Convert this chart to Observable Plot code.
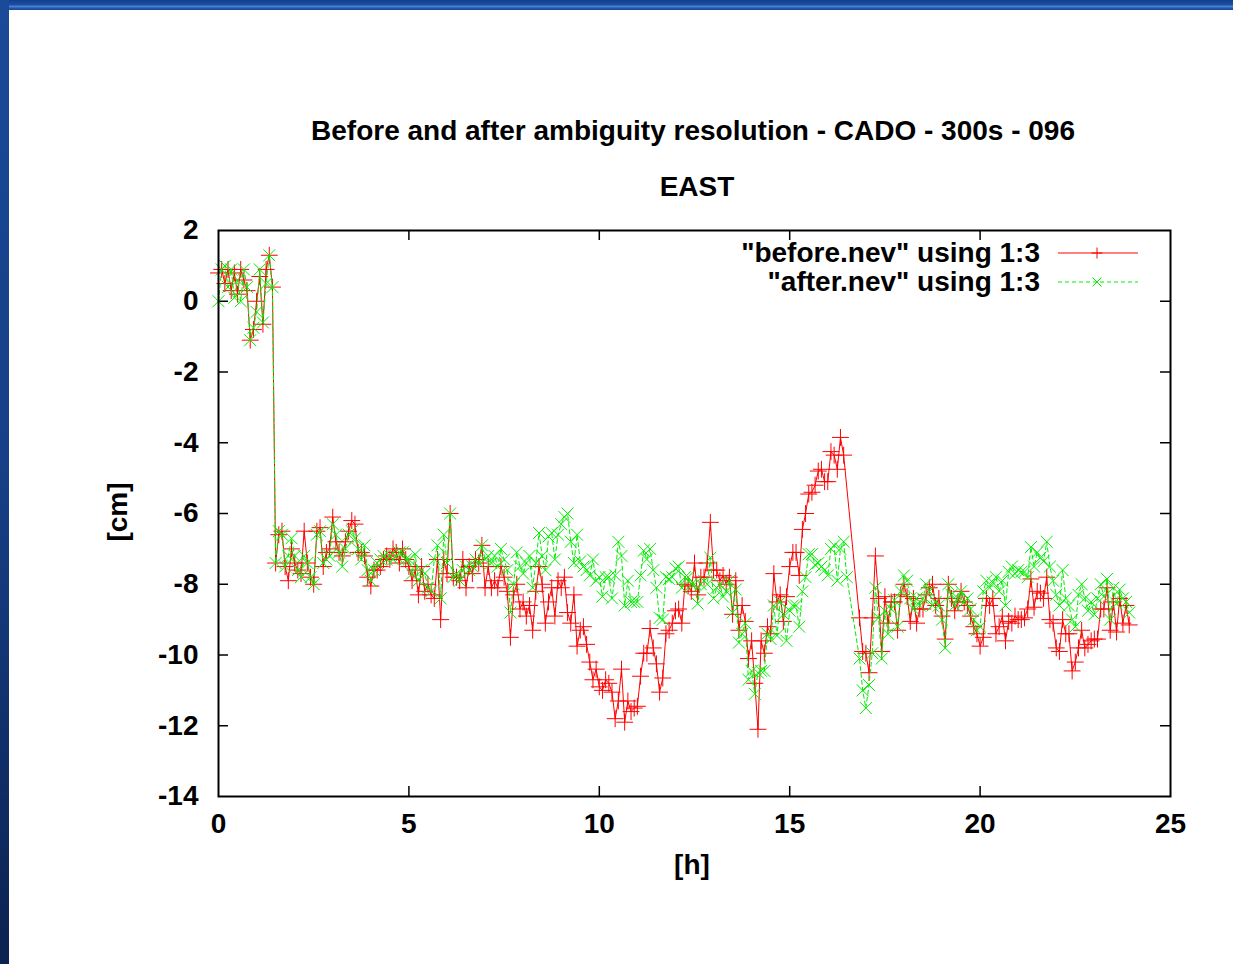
<!DOCTYPE html>
<html><head><meta charset="utf-8">
<script src="https://cdn.jsdelivr.net/npm/d3@7"></script>
<script src="https://cdn.jsdelivr.net/npm/@observablehq/plot@0.6"></script>
<style>
body{margin:0;width:1233px;height:964px;position:relative;overflow:hidden;background:#fff;font-family:"Liberation Sans",Arial,Helvetica,sans-serif;}
#topbar{position:absolute;left:0;top:0;width:1233px;height:10px;background:linear-gradient(#123f8c 0%, #1a4ea2 45%, #4a7fd4 65%, #2556a8 82%, #17479a 100%);z-index:2;}
#leftbar{position:absolute;left:0;top:0;width:9px;height:964px;background:linear-gradient(#1a4a98, #163f86 50%, #0c2250 100%);z-index:2;}
.t{position:absolute;font-weight:bold;font-size:28px;color:#000;white-space:nowrap;transform:translate(-50%,-50%);z-index:3;}
#chart{position:absolute;left:0;top:0;}
.leg{position:absolute;right:193px;font-weight:bold;font-size:28px;white-space:nowrap;transform:translateY(-50%);z-index:3;}
.legsw{position:absolute;left:1056px;z-index:3;}
</style></head><body>
<div id="topbar"></div><div id="leftbar"></div>
<div id="chart"></div>
<div class="t" style="left:693px;top:131px">Before and after ambiguity resolution - CADO - 300s - 096</div>
<div class="t" style="left:697px;top:187px">EAST</div>
<div class="t" style="left:692px;top:865px">[h]</div>
<div class="t" style="left:118px;top:512px;transform:translate(-50%,-50%) rotate(-90deg)">[cm]</div>
<div id="legend"></div>
<script>
const sampleIntervalHours = 300 / 3600;
const xTicks = [0, 5, 10, 15, 20, 25];
const yTicks = [-14, -12, -10, -8, -6, -4, -2, 0, 2];
const seriesNames = ["\"before.nev\" using 1:3", "\"after.nev\" using 1:3"];
const seriesColors = ["#ff0000", "#00ee00"];

const before = [
 0.8, 0.9, 0.5, 0.9, 0.3, 0.8, 0.2, 0.9, 0.6, 0.3, -1.1, -0.8,
 0.0, 0.7, -0.65, 0.9, 1.3, 0.4, -7.4, -6.6, -6.5, -7.5, -7.9, -7.0,
 -7.4, -7.6, -7.7, -6.5, -7.4, -7.8, -8.0, -6.5, -6.4, -7.5, -7.1, -7.0,
 -6.1, -6.8, -7.1, -7.2, -6.8, -6.5, -6.2, -6.3, -7.1, -7.1, -7.2, -7.8,
 -8.05, -7.6, -7.6, -7.5, -7.3, -7.2, -7.3, -7.0, -7.1, -7.4, -7.0, -7.3,
 -7.5, -7.9, -7.6, -8.3, -7.5, -8.2, -8.0, -8.3, -8.4, -7.3, -9.0, -7.3,
 -7.7, -6.0, -7.8, -7.8, -7.9, -7.3, -8.1, -7.5, -7.7, -7.3, -7.4, -6.9,
 -8.1, -7.5, -8.1, -7.9, -8.1, -7.5, -7.8, -8.2, -9.5, -8.3, -8.0, -8.7,
 -8.5, -8.9, -8.6, -9.3, -8.2, -7.5, -8.0, -9.1, -8.5, -8.1, -8.9, -7.9,
 -8.1, -7.8, -8.8, -9.1, -8.3, -9.75, -9.3, -9.2, -9.7, -10.2, -10.7, -10.4,
 -10.9, -11.0, -10.7, -10.8, -11.05, -11.8, -11.3, -10.4, -11.9, -11.3, -11.6, -11.5,
 -11.45, -10.6, -9.95, -9.95, -9.25, -9.8, -10.25, -11.05, -10.65, -9.4, -9.3, -9.1,
 -8.75, -8.7, -9.1, -8.0, -8.05, -8.2, -7.4, -8.3, -7.8, -7.8, -7.4, -6.25,
 -7.6, -7.6, -7.9, -7.75, -8.0, -7.8, -8.85, -7.9, -9.3, -8.6, -9.05, -10.1,
 -9.6, -10.8, -12.1, -9.6, -9.95, -9.2, -9.4, -7.7, -8.5, -8.3, -9.05, -8.35,
 -7.5, -7.1, -7.1, -7.75, -6.45, -6.0, -5.45, -5.4, -5.2, -4.8, -4.75, -5.1,
 -5.1, -4.25, -4.35, -4.75, -3.85, -4.35, null, null, null, null, -8.95, -9.9,
 -9.95, -10.5, -8.95, -7.2, -8.4, -9.9, -8.35, -9.1, -8.5, -8.5, -9.3, -8.3,
 -8.0, -8.35, -9.05, -8.4, -9.1, -8.7, -8.7, -8.3, -8.1, -8.0, -8.6, -8.4,
 -8.9, -9.55, -8.0, -8.4, -8.75, -8.5, -8.2, -8.5, -8.6, -8.9, -9.2, -9.4,
 -9.75, -9.5, -8.4, -8.6, -8.4, -9.4, -9.2, -8.9, -9.6, -9.05, -9.1, -8.9,
 -9.0, -9.0, -8.95, -8.7, -7.85, -8.65, -8.2, -8.25, -8.4, -7.8, -9.0, -9.1,
 -9.8, -9.9, -9.0, -9.4, -9.4, -10.45, -10.2, -9.8, -9.3, -9.8, -9.7, -9.6,
 -9.55, -9.55, -8.7, -8.7, -8.1, -9.3, -8.5, -9.35, -8.4, -9.1, -8.6, -9.15
];

const after = [
 0.0, 0.9, 1.0, 0.4, 0.9, 0.1, 0.6, 0.0, 0.9, 0.4, -1.1, -0.75,
 -0.3, 0.9, -0.6, 0.5, 1.3, 0.4, -7.4, -6.5, -6.6, -7.5, -7.2, -6.7,
 -7.2, -7.6, -7.8, -7.2, -7.4, -7.8, -8.0, -6.6, -6.5, -7.4, -7.3, -7.2,
 -6.3, -6.6, -7.1, -7.5, -7.0, -6.6, -6.5, -6.7, -7.0, -7.3, -6.9, -7.6,
 -7.9, -7.6, -7.4, -7.3, -7.2, -7.3, -7.2, -7.3, -7.2, -7.1, -7.1, -7.3,
 -7.3, -7.7, -7.15, -7.9, -7.6, -7.7, -8.1, -8.2, -7.3, -6.9, -8.4, -6.6,
 -7.4, -6.0, -7.8, -7.7, -7.9, -7.6, -7.5, -7.6, -7.5, -7.3, -7.4, -6.9,
 -7.3, -7.2, -7.4, -7.2, -7.5, -7.0, -7.3, -7.6, -8.8, -8.0, -7.1, -7.5,
 -7.7, -7.4, -7.2, -8.1, -7.4, -6.55, -7.2, -7.6, -6.65, -6.55, -7.3, -6.6,
 -6.3, -6.1, -6.0, -6.8, -7.4, -6.6, -7.35, -7.5, -7.6, -7.75, -7.3, -7.9,
 -7.8, -8.35, -7.8, -7.8, -8.4, -7.75, -6.8, -7.2, -8.6, -7.9, -8.5, -8.5,
 -8.5, -7.75, -7.05, -7.3, -7.0, -7.6, -8.1, -8.95, -9.0, -7.8, -7.85, -7.8,
 -7.55, -7.5, -8.1, -7.8, -7.8, -8.0, -8.0, -8.55, -8.0, -7.9, -8.0, -7.25,
 -8.4, -8.1, -8.0, -8.35, -8.2, -7.9, -8.8, -8.15, -9.65, -9.4, -9.1, -10.7,
 -10.45, -11.1, -10.5, -10.45, -10.45, -9.4, -9.55, -8.6, -9.45, -8.5, -8.85, -9.6,
 -8.75, -8.6, -8.6, -9.2, -8.2, -7.8, -7.15, -7.15, -7.45, -7.4, -7.5, -7.6,
 -7.75, -7.0, -6.9, -7.9, -7.0, -6.8, -7.8, null, null, null, -10.1, -11.0,
 -11.5, -10.85, -9.95, -8.1, -8.95, -10.1, -8.75, -9.4, -8.7, -8.45, -9.2, -8.2,
 -7.75, -7.9, -8.4, -8.7, -8.4, -8.6, -8.4, -8.0, -8.2, -8.6, -8.5, -8.6,
 -9.0, -9.8, -8.0, -8.3, -8.6, -8.4, -8.2, -8.5, -8.4, -8.7, -9.0, -9.3,
 -9.2, -8.2, -7.9, -8.1, -7.95, -7.8, -8.2, -7.9, -8.6, -7.65, -7.5, -7.7,
 -7.6, -7.65, -7.65, -7.8, -6.95, -7.5, -7.1, -7.25, -7.35, -6.8, -7.5, -7.9,
 -8.3, -8.6, -7.6, -8.4, -8.6, -9.0, -9.2, -8.3, -8.0, -8.4, -8.75, -8.5,
 -8.85, -8.4, -8.0, -8.35, -7.85, -9.0, -8.1, -8.55, -8.15, -8.4, -8.5, -8.8
];

function toRows(arr) {
  const out = [];
  arr.forEach((v, i) => { if (v != null) out.push({t: i * sampleIntervalHours, v}); });
  return out;
}
const beforeData = toRows(before);
const afterData = toRows(after);

const W = 1233, H = 964, mL = 218, mR = 63, mT = 230, mB = 168;
const plotW = W - mL - mR, plotH = H - mT - mB;
const tickLen = 10;
const innerX = xTicks.slice(1, -1), innerY = yTicks.slice(1, -1);

const chart = Plot.plot({
  width: W, height: H,
  marginLeft: mL, marginRight: mR, marginTop: mT, marginBottom: mB,
  x: {domain: [0, 25], ticks: xTicks, tickSize: 0, tickPadding: 17, label: null, tickFormat: d => String(d)},
  y: {domain: [-14, 2], ticks: yTicks, tickSize: 0, tickPadding: 20, label: null, tickFormat: d => String(d)},
  style: {background: "transparent", fontFamily: "'Liberation Sans', Arial, Helvetica, sans-serif", fontSize: "28px", fontWeight: "bold", color: "#000"},
  marks: [
    Plot.ruleX(innerX, {insetTop: plotH - tickLen, stroke: "#000", strokeWidth: 1.5}),
    Plot.ruleX(innerX, {insetBottom: plotH - tickLen, stroke: "#000", strokeWidth: 1.5}),
    Plot.ruleY(innerY, {insetRight: plotW - tickLen, stroke: "#000", strokeWidth: 1.5}),
    Plot.ruleY(innerY, {insetLeft: plotW - tickLen, stroke: "#000", strokeWidth: 1.5}),
    Plot.line(beforeData, {x: "t", y: "v", stroke: seriesColors[0], strokeWidth: 1}),
    Plot.dot(beforeData, {x: "t", y: "v", symbol: "plus", r: 5.5, stroke: seriesColors[0], fill: "none", strokeWidth: 1}),
    Plot.line(afterData, {x: "t", y: "v", stroke: seriesColors[1], strokeWidth: 1, strokeDasharray: "4,3"}),
    Plot.dot(afterData, {x: "t", y: "v", symbol: "times", r: 5.5, stroke: seriesColors[1], fill: "none", strokeWidth: 1}),
    Plot.frame({stroke: "#000", strokeWidth: 2})
  ]
});
document.getElementById("chart").appendChild(chart);

// legend
const legend = document.getElementById("legend");
const legY = [253, 282];
seriesNames.forEach((name, k) => {
  const d = document.createElement("div");
  d.className = "leg"; d.style.top = legY[k] + "px"; d.textContent = name;
  legend.appendChild(d);
  const sw = document.createElementNS("http://www.w3.org/2000/svg", "svg");
  sw.setAttribute("class", "legsw"); sw.setAttribute("width", 84); sw.setAttribute("height", 14);
  sw.style.top = (legY[k] - 7) + "px";
  const ln = document.createElementNS("http://www.w3.org/2000/svg", "line");
  ln.setAttribute("x1", 2); ln.setAttribute("x2", 82); ln.setAttribute("y1", 7); ln.setAttribute("y2", 7);
  ln.setAttribute("stroke", seriesColors[k]); ln.setAttribute("stroke-width", 1);
  if (k === 1) ln.setAttribute("stroke-dasharray", "4,3");
  sw.appendChild(ln);
  const m = document.createElementNS("http://www.w3.org/2000/svg", "path");
  m.setAttribute("d", k === 0 ? "M41,1.5V12.5M35.5,7H46.5" : "M36.5,2.5L45.5,11.5M45.5,2.5L36.5,11.5");
  m.setAttribute("stroke", seriesColors[k]); m.setAttribute("fill", "none");
  sw.appendChild(m);
  legend.appendChild(sw);
});
</script>
</body></html>
